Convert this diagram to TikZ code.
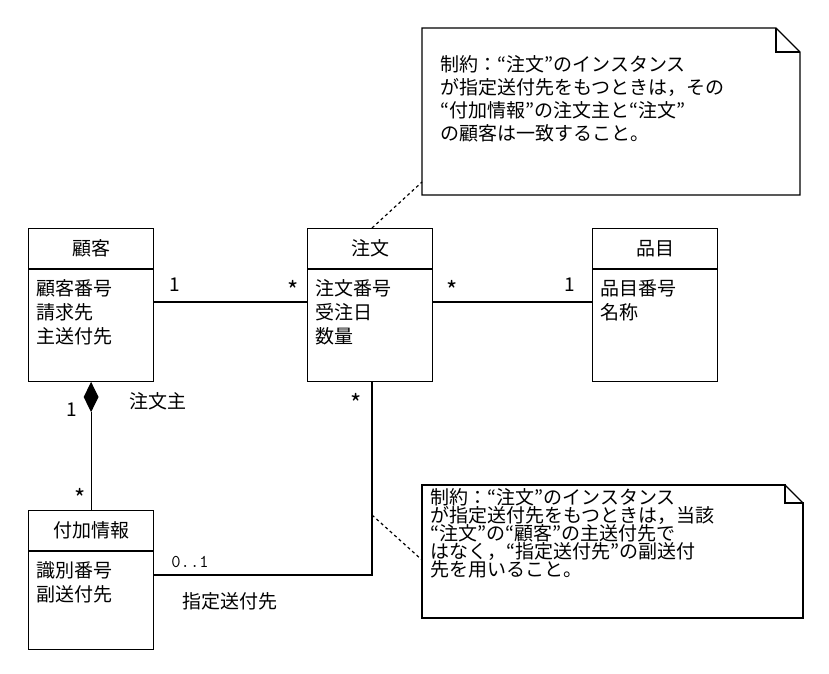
\documentclass[tikz,border=0pt]{standalone}
\usepackage{fontspec}
\newfontfamily\cjk{Noto Sans CJK JP}
\usetikzlibrary{positioning,shapes.geometric}
\begin{document}
\begin{tikzpicture}[
        x=1pt, y=-1pt,
        font=\cjk\fontsize{19}{24}\selectfont,
        line width=1.2pt,
        head/.style = {draw, minimum width=125pt, minimum height=40pt, anchor=north west}, % クラス名
        body/.style = {draw, minimum width=125pt, minimum height=112pt, anchor=north}, % 属性の枠
        attr/.style = {align=left, anchor=north west, inner sep=0pt, xshift=8pt, yshift=-10pt},
        memo/.style = {align=left, anchor=north west, inner sep=0pt},
        lbl/.style  = {inner sep=1pt},
    ]
    \useasboundingbox (0,0) rectangle (829,673);

    % クラス
    \node[head] (kokyaku) at (28,228) {顧客};
    \node[body] (kokyakuB) at (kokyaku.south) {};
    \node[attr] at (kokyakuB.north west) {顧客番号\\請求先\\主送付先};
    \node[head] (chumon) at (307,228) {注文};
    \node[body] (chumonB) at (chumon.south) {};
    \node[attr] at (chumonB.north west) {注文番号\\受注日\\数量};
    \node[head] (hinmoku) at (592,228) {品目};
    \node[body] (hinmokuB) at (hinmoku.south) {};
    \node[attr] at (hinmokuB.north west) {品目番号\\名称};
    \node[head] (fuka) at (28,510) {付加情報};
    \node[body, minimum height=98pt] (fukaB) at (fuka.south) {};
    \node[attr] at (fukaB.north west) {識別番号\\副送付先};

    % 関連
    \draw (kokyakuB.east |- 0,302) -- (chumonB.west |- 0,302);
    \node[lbl] at (175,285) {1};
    \node[lbl] at (293,290) {\fontsize{24}{24}\selectfont *};
    \draw (chumonB.east |- 0,302) -- (hinmokuB.west |- 0,302);
    \node[lbl] at (452,290) {\fontsize{24}{24}\selectfont *};
    \node[lbl] at (570,285) {1};

    \node[draw, diamond, fill=black, inner sep=0pt, minimum width=14pt, minimum height=28pt,
          anchor=north] (dia) at (kokyakuB.south) {};
    \draw (dia.south) -- (fuka.north -| dia.south);
    \node[lbl] at (72,410) {1};
    \node[lbl] at (80,498) {\fontsize{24}{24}\selectfont *};
    \node[lbl] at (158,401) {注文主};

    \coordinate (bend) at (372,575);
    \draw (chumonB.south -| bend) -- (bend) -- (fukaB.east |- bend);
    \node[lbl] at (356,403) {\fontsize{24}{24}\selectfont *};
    \node[lbl, font=\ttfamily\fontsize{18}{20}\selectfont] at (190,562) {0..1};
    \node[lbl] at (230,601) {指定送付先};

    % 注記
    \draw (422,28) -- (776,28) -- (800,52) -- (800,195) -- (422,195) -- cycle;
    \draw (776,28) -- (776,52) -- (800,52);
    \node[memo] (memo1) at (440,55) {制約：“注文”のインスタンス\\[-1pt]が指定送付先をもつときは，その\\[-1pt]“付加情報”の注文主と“注文”\\[-1pt]の顧客は一致すること。};
    \draw (785,485) -- (803,503);
    \draw (422,485) -- (785,485) -- (785,503) -- (803,503) -- (803,618) -- (422,618) -- cycle;
    \node[memo, font=\cjk\fontsize{19}{20}\selectfont] (memo2) at (430,488) {制約：“注文”のインスタンス\\[-2pt]が指定送付先をもつときは，当該\\[-2pt]“注文”の“顧客”の主送付先で\\[-2pt]はなく，“指定送付先”の副送付\\[-2pt]先を用いること。};

    \coordinate (n1) at (422,182);
    \coordinate (n2) at (422,560);
    \draw[dashed] (chumon.north -| bend) -- (n1);
    \draw[dashed] (372,515) -- (n2);
\end{tikzpicture}
\end{document}
